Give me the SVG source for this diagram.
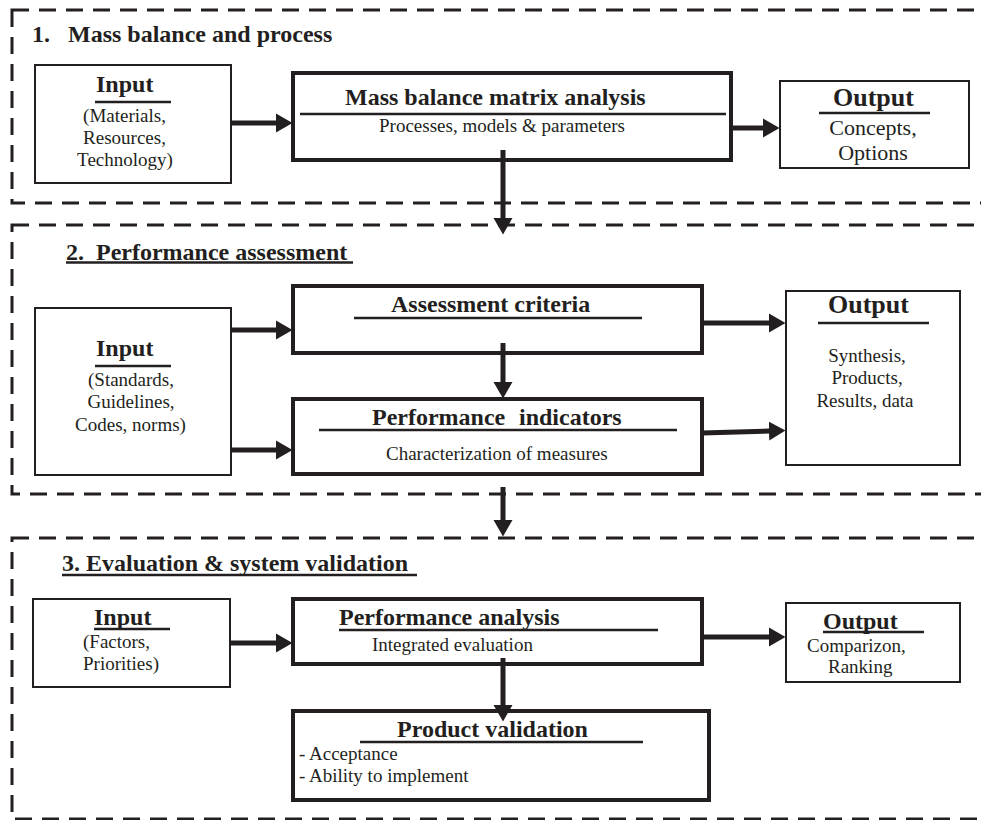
<svg xmlns="http://www.w3.org/2000/svg" width="981" height="820" viewBox="0 0 981 820">
<defs>
<marker id="ah" markerUnits="userSpaceOnUse" markerWidth="17" markerHeight="20" refX="1" refY="10" orient="auto">
<path d="M0,0.5 L16.5,10 L0,19.5 z" fill="#231f20"/>
</marker>
</defs>
<style>
.sec{fill:none;stroke:#231f20;stroke-width:3;stroke-dasharray:17 10}
.thin{fill:#fff;stroke:#231f20;stroke-width:2}
.thick{fill:#fff;stroke:#231f20;stroke-width:4}
.ul{stroke:#231f20;stroke-width:2.5}
.arr{stroke:#231f20;stroke-width:5;fill:none;marker-end:url(#ah)}
text{font-family:"Liberation Serif","Times New Roman",serif;fill:#231f20}
.h{font-weight:bold;font-size:24px}
.o{font-weight:bold;font-size:26px}
.t{font-size:19px}
.t22{font-size:22px}
.m{text-anchor:middle}
</style>

<g id="section1">
<rect class="sec" x="12" y="10" width="990" height="193"/>
<text class="h" x="32" y="42">1.</text>
<text class="h" x="68" y="42">Mass balance and process</text>
</g>
<g id="section2">
<rect class="sec" x="12" y="225" width="990" height="269"/>
<text class="h" x="66" y="260">2.</text>
<text class="h" x="96" y="260">Performance assessment</text>
<line class="ul" x1="66" y1="262.5" x2="353" y2="262.5"/>
</g>
<g id="section3">
<rect class="sec" x="12" y="538" width="990" height="281"/>
<text class="h" x="62" y="571">3. Evaluation &amp; system validation</text>
<line class="ul" x1="62" y1="575" x2="417" y2="575"/>
</g>

<g id="input1">
<rect class="thin" x="35" y="65" width="196" height="118"/>
<text class="h" x="96" y="92">Input</text>
<line class="ul" x1="95" y1="102" x2="171" y2="102"/>
<text class="t m" x="124.5" y="122">(Materials,</text>
<text class="t m" x="124.5" y="144">Resources,</text>
<text class="t m" x="125" y="166">Technology)</text>
</g>
<g id="massbalance">
<rect class="thick" x="293" y="73" width="438" height="87"/>
<text class="h" x="345" y="105">Mass balance matrix analysis</text>
<line class="ul" x1="300" y1="114" x2="726" y2="114"/>
<text class="t" x="379" y="132">Processes, models &amp; parameters</text>
</g>
<g id="output1">
<rect class="thin" x="780" y="81" width="189" height="87"/>
<text class="o" x="833" y="106">Output</text>
<line class="ul" x1="819" y1="113" x2="930" y2="113"/>
<text class="t22 m" x="873" y="135">Concepts,</text>
<text class="t22 m" x="873" y="160">Options</text>
</g>

<g id="input2">
<rect class="thin" x="35" y="308" width="196" height="167"/>
<text class="h" x="96" y="356">Input</text>
<line class="ul" x1="95" y1="366" x2="171" y2="366"/>
<text class="t m" x="131" y="386">(Standards,</text>
<text class="t m" x="131" y="408">Guidelines,</text>
<text class="t m" x="130.5" y="431">Codes, norms)</text>
</g>
<g id="criteria">
<rect class="thick" x="293" y="286" width="409" height="67"/>
<text class="h" x="391" y="312">Assessment criteria</text>
<line class="ul" x1="354" y1="318" x2="642" y2="318"/>
</g>
<g id="indicators">
<rect class="thick" x="293" y="399" width="409" height="75"/>
<text class="h" x="372" y="425">Performance</text>
<text class="h" x="519" y="425">indicators</text>
<line class="ul" x1="319" y1="430" x2="677" y2="430"/>
<text class="t" x="386" y="460">Characterization of measures</text>
</g>
<g id="output2">
<rect class="thin" x="786" y="291" width="174" height="174"/>
<text class="o" x="828" y="313">Output</text>
<line class="ul" x1="818" y1="323" x2="929" y2="323"/>
<text class="t m" x="867" y="362">Synthesis,</text>
<text class="t m" x="867" y="384">Products,</text>
<text class="t m" x="865" y="407">Results, data</text>
</g>

<g id="input3">
<rect class="thin" x="33" y="599" width="197" height="88"/>
<text class="h" x="94" y="625">Input</text>
<line class="ul" x1="94" y1="629" x2="170" y2="629"/>
<text class="t" x="83" y="648">(Factors,</text>
<text class="t" x="83" y="670">Priorities)</text>
</g>
<g id="perfanalysis">
<rect class="thick" x="293" y="599" width="409" height="65"/>
<text class="h" x="339" y="625">Performance analysis</text>
<line class="ul" x1="339" y1="630" x2="658" y2="630"/>
<text class="t" x="372" y="651">Integrated evaluation</text>
</g>
<g id="output3">
<rect class="thin" x="786" y="603" width="174" height="79"/>
<text class="h" x="823" y="629">Output</text>
<line class="ul" x1="823" y1="632" x2="924" y2="632"/>
<text class="t" x="807" y="652">Comparizon,</text>
<text class="t" x="828" y="673">Ranking</text>
</g>
<g id="productvalidation">
<rect class="thick" x="293" y="711" width="416" height="89"/>
<text class="h" x="397" y="737">Product validation</text>
<line class="ul" x1="360" y1="742" x2="643" y2="742"/>
<text class="t" x="299" y="760">- Acceptance</text>
<text class="t" x="299" y="782">- Ability to implement</text>
</g>

<g id="connectors">
<line class="arr" x1="231" y1="123" x2="277" y2="123"/>
<line class="arr" x1="731" y1="128" x2="764" y2="128"/>
<line class="arr" x1="503" y1="150" x2="503" y2="219"/>
<line class="arr" x1="231" y1="330" x2="277" y2="330"/>
<line class="arr" x1="231" y1="450" x2="277" y2="450"/>
<line class="arr" x1="702" y1="323" x2="770" y2="323"/>
<line class="arr" x1="702" y1="433" x2="770" y2="431"/>
<line class="arr" x1="503" y1="343" x2="503" y2="383"/>
<line class="arr" x1="503" y1="487" x2="503" y2="521"/>
<line class="arr" x1="230" y1="643" x2="277" y2="643"/>
<line class="arr" x1="702" y1="637" x2="770" y2="637"/>
<line class="arr" x1="503" y1="658" x2="503" y2="706"/>
</g>
</svg>
